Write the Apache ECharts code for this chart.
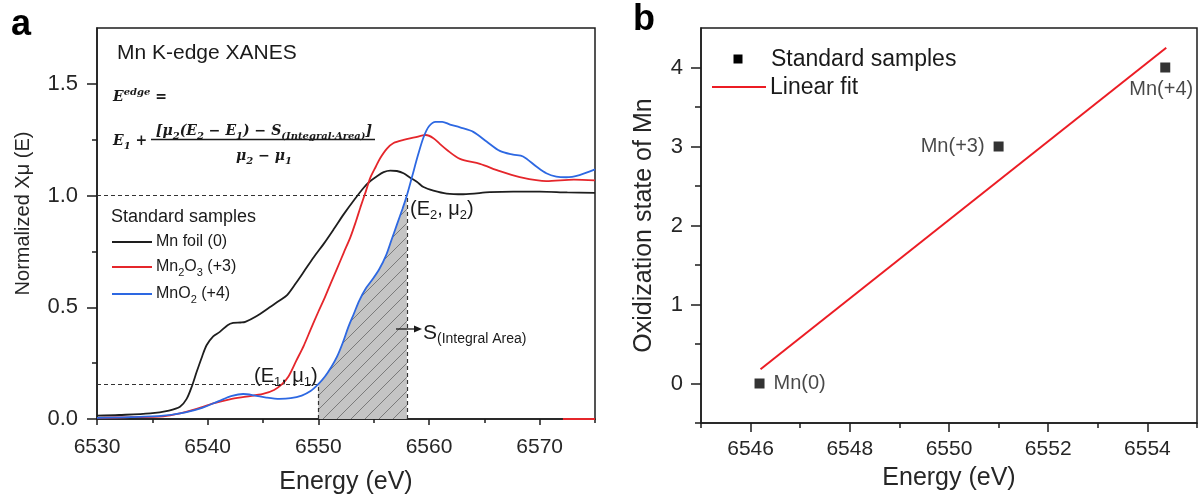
<!DOCTYPE html>
<html>
<head>
<meta charset="utf-8">
<script src="https://cdn.jsdelivr.net/npm/echarts@6/dist/echarts.min.js"></script>
<style>
html, body { margin: 0; padding: 0; background: #fff; }
#chart { width: 1198px; height: 500px; }
</style>
</head>
<body>
<div id="chart"></div>
<script>
// ---- panel a: Mn K-edge XANES ----
var foilE = [6530, 6532, 6534.8, 6536.5, 6537.5, 6538.1, 6538.6, 6539.0, 6539.5, 6539.9, 6540.5, 6541.1, 6541.8, 6542.3, 6543.0, 6543.4, 6544.4, 6545.6, 6546.5, 6547.2, 6548.0, 6548.7, 6549.6, 6550.5, 6551.4, 6552.3, 6553.2, 6554.1, 6554.7, 6555.3, 6555.9, 6556.5, 6557.1, 6557.7, 6558.3, 6558.9, 6559.5, 6560.4, 6561.6, 6563.1, 6565.5, 6567.6, 6570, 6572.5, 6575];
var foilMu = [0.015, 0.018, 0.025, 0.038, 0.055, 0.09, 0.15, 0.21, 0.28, 0.33, 0.37, 0.39, 0.42, 0.43, 0.432, 0.435, 0.46, 0.50, 0.53, 0.556, 0.61, 0.66, 0.725, 0.785, 0.85, 0.917, 0.978, 1.035, 1.065, 1.087, 1.105, 1.112, 1.11, 1.10, 1.08, 1.062, 1.038, 1.022, 1.009, 1.006, 1.015, 1.018, 1.018, 1.014, 1.012];

var mn2o3E = [6530, 6533, 6536, 6537.5, 6539, 6540.5, 6542, 6543.5, 6545, 6546, 6546.7, 6547.3, 6548, 6548.7, 6549.3, 6550, 6550.5, 6551.1, 6551.7, 6552.3, 6552.9, 6553.4, 6553.8, 6554.3, 6554.7, 6555.2, 6555.6, 6556.2, 6556.8, 6557.7, 6558.7, 6559.7, 6560.4, 6561, 6561.6, 6562.8, 6564.6, 6566.4, 6568.2, 6570.6, 6573.1, 6575];
var mn2o3Mu = [0.005, 0.008, 0.012, 0.025, 0.045, 0.07, 0.088, 0.1, 0.112, 0.13, 0.155, 0.19, 0.26, 0.33, 0.40, 0.48, 0.534, 0.605, 0.674, 0.745, 0.814, 0.885, 0.947, 1.02, 1.08, 1.13, 1.168, 1.21, 1.235, 1.249, 1.26, 1.271, 1.257, 1.23, 1.205, 1.164, 1.142, 1.109, 1.083, 1.065, 1.071, 1.068];

var mno2E = [6530, 6533, 6536, 6538, 6539.5, 6541, 6542.2, 6543.2, 6544.2, 6545.3, 6546.5, 6547.5, 6548.5, 6549.3, 6550, 6550.6, 6551.2, 6551.7, 6552.2, 6552.7, 6553.2, 6553.7, 6554.3, 6554.9, 6555.5, 6556.1, 6556.6, 6557.1, 6557.6, 6558, 6558.5, 6559, 6559.5, 6560, 6560.6, 6561.2, 6561.9, 6562.8, 6564, 6565.2, 6566.4, 6567.6, 6568.5, 6569.7, 6570.6, 6571.5, 6572.4, 6573.6, 6575];
var mno2Mu = [0.005, 0.008, 0.015, 0.03, 0.05, 0.08, 0.103, 0.112, 0.106, 0.096, 0.09, 0.093, 0.105, 0.125, 0.156, 0.19, 0.235, 0.28, 0.34, 0.41, 0.47, 0.53, 0.585, 0.625, 0.67, 0.73, 0.8, 0.87, 0.94, 1.0, 1.09, 1.18, 1.26, 1.31, 1.33, 1.33, 1.318, 1.305, 1.285, 1.242, 1.2, 1.183, 1.175, 1.13, 1.1, 1.085, 1.082, 1.092, 1.117];

// stray red segment on the energy axis at the right end of the original
var strayE = [6572.1, 6575];
var strayMu = [0, 0];

// integration limits (E1, mu1) and (E2, mu2)
var edgeE1 = 6550, edgeMu1 = 0.156;
var edgeE2 = 6558, edgeMu2 = 1.0;

var axisAMin = 6530, axisAMax = 6575;
var ticksAX = [6530, 6540, 6550, 6560, 6570];
var minorAX = [6535, 6545, 6555, 6565, 6575];
var ticksAY = [0, 0.5, 1.0, 1.5];
var minorAY = [0.25, 0.75, 1.25];

// ---- panel b: oxidation state vs edge energy ----
var sampleNames = ['Mn(0)', 'Mn(+3)', 'Mn(+4)'];
var sampleE = [6546.18, 6551.0, 6554.36];
var sampleOx = [0, 3, 4];
var fitE = [6546.2, 6554.38];
var fitOx = [0.18, 4.25];

var ticksBX = [6546, 6548, 6550, 6552, 6554];
var minorBX = [6545, 6547, 6549, 6551, 6553, 6555];
var ticksBY = [0, 1, 2, 3, 4];
var minorBY = [-0.5, 0.5, 1.5, 2.5, 3.5];

var SANS = '"Liberation Sans", Arial, sans-serif';
var SERIF = '"DejaVu Serif", serif';
var INK = '#1c1c1c';
var C_FOIL = '#1e1e1e', C_MN2O3 = '#e5262b', C_MNO2 = '#2d68e2', C_FIT = '#ec1c24';

function zip(xs, ys) {
    return xs.map(function (x, i) { return [x, ys[i]]; });
}

function makeHatch() {
    var s = 14;
    var cv = document.createElement('canvas');
    cv.width = s; cv.height = s;
    var ctx = cv.getContext('2d');
    ctx.fillStyle = '#c4c4c4';
    ctx.fillRect(0, 0, s, s);
    ctx.strokeStyle = '#7a7a7a';
    ctx.lineWidth = 1;
    ctx.beginPath();
    ctx.moveTo(0, s); ctx.lineTo(s, 0);
    ctx.moveTo(-s / 2, s / 2); ctx.lineTo(s / 2, -s / 2);
    ctx.moveTo(s / 2, s * 1.5); ctx.lineTo(s * 1.5, s / 2);
    ctx.stroke();
    return cv;
}

function plain(v) { return String(v); }

function mainX(gridIndex, min, max, ticks, tickLen, margin, gap) {
    return {
        type: 'value', gridIndex: gridIndex, min: min, max: max, position: 'bottom',
        axisLine: { show: true, onZero: false, lineStyle: { color: INK, width: 1.5 } },
        axisTick: { show: true, customValues: ticks, length: tickLen, lineStyle: { color: INK, width: 1.5 } },
        axisLabel: { customValues: ticks, formatter: plain, margin: margin, color: '#262626', fontSize: 21, fontFamily: SANS },
        splitLine: { show: false },
        name: 'Energy (eV)', nameLocation: 'middle', nameGap: gap,
        nameTextStyle: { fontSize: 25, color: '#262626', fontFamily: SANS }
    };
}

function minorAxis(kind, gridIndex, min, max, ticks, tickLen) {
    return {
        type: 'value', gridIndex: gridIndex, min: min, max: max,
        position: kind === 'x' ? 'bottom' : 'left',
        axisLine: { show: false, onZero: false },
        axisTick: { show: true, customValues: ticks, length: tickLen, lineStyle: { color: INK, width: 1.5 } },
        axisLabel: { show: false },
        splitLine: { show: false }
    };
}

function mainY(gridIndex, min, max, ticks, fmt, margin, name, nameSize, gap, namePad) {
    return {
        type: 'value', gridIndex: gridIndex, min: min, max: max, position: 'left',
        axisLine: { show: true, onZero: false, lineStyle: { color: INK, width: 1.5 } },
        axisTick: { show: true, customValues: ticks, length: 10, lineStyle: { color: INK, width: 1.5 } },
        axisLabel: { customValues: ticks, formatter: fmt, margin: margin, color: '#262626', fontSize: 22, fontFamily: SANS },
        splitLine: { show: false },
        name: name, nameLocation: 'middle', nameGap: gap,
        nameTextStyle: { fontSize: nameSize, color: '#262626', fontFamily: SANS, padding: namePad || 0 }
    };
}

function curve(name, data, color) {
    return {
        type: 'line', name: name, xAxisIndex: 0, yAxisIndex: 0, data: data,
        showSymbol: false, symbol: 'none', smooth: 0.3, z: 3,
        lineStyle: { color: color, width: 1.8 }
    };
}

function rich(size, subSize, family, weight, style) {
    return {
        n: { fontSize: size, fontFamily: family, fontWeight: weight, fontStyle: style, fill: '#1a1a1a', lineHeight: size + 6 },
        s: { fontSize: subSize, fontFamily: family, fontWeight: weight, fontStyle: style, fill: '#1a1a1a', verticalAlign: 'bottom', lineHeight: subSize + 2 },
        u: { fontSize: subSize, fontFamily: family, fontWeight: weight, fontStyle: style, fill: '#1a1a1a', verticalAlign: 'top', lineHeight: subSize + 2 }
    };
}

function label(text, x, y, opts) {
    opts = opts || {};
    return {
        type: 'text', x: x, y: y, z: 10, silent: true,
        style: {
            text: text, align: opts.align || 'left', verticalAlign: 'middle',
            fontSize: opts.size || 18, fontFamily: opts.family || SANS,
            fontWeight: opts.weight || 'normal', fill: opts.color || '#1a1a1a',
            rich: opts.rich
        }
    };
}

function hline(x1, x2, y, color, width) {
    return { type: 'line', z: 10, silent: true, shape: { x1: x1, y1: y, x2: x2, y2: y }, style: { stroke: color, lineWidth: width } };
}

var hatchData = zip(mno2E, mno2Mu).filter(function (p) { return p[0] >= edgeE1 && p[0] <= edgeE2; });

var guide = { type: [4, 3], color: '#333', width: 1.2 };

var formulaRich = rich(14, 10, SERIF, 'bold', 'italic');
var annRich = rich(20, 13, SANS, 'normal', 'normal');
var legRich = rich(16, 11, SANS, 'normal', 'normal');

var option = {
    animation: false,
    backgroundColor: '#fff',
    grid: [
        { left: 97, top: 28, width: 498, height: 395, show: true, borderColor: INK, borderWidth: 1.5 },
        { left: 701, top: 28, width: 496, height: 395, show: true, borderColor: INK, borderWidth: 1.5 }
    ],
    xAxis: [
        mainX(0, axisAMin, axisAMax, ticksAX, 6, 18, 51),
        minorAxis('x', 0, axisAMin, axisAMax, minorAX, 4),
        mainX(1, 6545, 6555, ticksBX, 9, 16, 43),
        minorAxis('x', 1, 6545, 6555, minorBX, 5)
    ],
    yAxis: [
        mainY(0, 0, 1.75, ticksAY, function (v) { return v.toFixed(1); }, 19, 'Normalized Xμ (E)', 20, 64, [0, 0, 0, 20]),
        minorAxis('y', 0, 0, 1.75, minorAY, 5),
        mainY(1, -0.5, 4.5, ticksBY, plain, 18, 'Oxidization state of Mn', 25, 44),
        minorAxis('y', 1, -0.5, 4.5, minorBY, 6)
    ],
    series: [
        {
            type: 'line', name: 'S (Integral Area)', xAxisIndex: 0, yAxisIndex: 0,
            data: hatchData, showSymbol: false, symbol: 'none', smooth: 0.3, z: 1,
            lineStyle: { width: 0, opacity: 0 },
            areaStyle: { color: { image: makeHatch(), repeat: 'repeat' }, opacity: 1 },
            markLine: {
                silent: true, symbol: 'none', label: { show: false }, lineStyle: guide, z: 2,
                data: [
                    [{ coord: [axisAMin, edgeMu2] }, { coord: [edgeE2, edgeMu2] }],
                    [{ coord: [axisAMin, edgeMu1] }, { coord: [edgeE1, edgeMu1] }],
                    [{ coord: [edgeE1, 0] }, { coord: [edgeE1, edgeMu1] }],
                    [{ coord: [edgeE2, 0] }, { coord: [edgeE2, edgeMu2] }]
                ]
            }
        },
        curve('Mn foil (0)', zip(foilE, foilMu), C_FOIL),
        curve('Mn2O3 (+3)', zip(mn2o3E, mn2o3Mu), C_MN2O3),
        curve('MnO2 (+4)', zip(mno2E, mno2Mu), C_MNO2),
        {
            type: 'line', xAxisIndex: 0, yAxisIndex: 0, data: zip(strayE, strayMu),
            showSymbol: false, symbol: 'none', z: 4, silent: true,
            lineStyle: { color: C_MN2O3, width: 2 }
        },
        {
            type: 'line', name: 'Linear fit', xAxisIndex: 2, yAxisIndex: 2,
            data: zip(fitE, fitOx), showSymbol: false, symbol: 'none', z: 3,
            lineStyle: { color: C_FIT, width: 2 }
        },
        {
            type: 'scatter', name: 'Standard samples', xAxisIndex: 2, yAxisIndex: 2,
            symbol: 'rect', symbolSize: 10, z: 4,
            itemStyle: { color: '#000' },
            data: sampleE.map(function (e, i) {
                var pos = ['right', 'left', 'bottom'][i];
                return {
                    name: sampleNames[i], value: [e, sampleOx[i]],
                    label: { position: pos, distance: pos === 'bottom' ? 7 : 9, offset: pos === 'bottom' ? [-4, 0] : [0, 0] }
                };
            }),
            label: { show: true, formatter: '{b}', fontSize: 20, color: '#1a1a1a', fontFamily: SANS }
        }
    ],
    graphic: [
        label('a', 11, 25, { size: 36, weight: 'bold', color: '#000' }),
        label('b', 633, 20, { size: 36, weight: 'bold', color: '#000' }),
        label('Mn K-edge XANES', 117, 53, { size: 21 }),
        label('{n|E}{u|edge}{n| =}', 113, 97, { rich: formulaRich }),
        label('{n|E}{s|1}{n| +}', 113, 141, { rich: formulaRich }),
        label('{n|[μ}{s|2}{n|(E}{s|2}{n| − E}{s|1}{n|) − S}{s|(Integral·Area)}{n|]}', 264, 131, { align: 'center', rich: formulaRich }),
        hline(151, 375, 139.5, '#1a1a1a', 1.3),
        label('{n|μ}{s|2}{n| − μ}{s|1}', 264, 156, { align: 'center', rich: formulaRich }),
        label('Standard samples', 111, 217, { size: 18 }),
        hline(112, 152, 242, C_FOIL, 1.8),
        label('{n|Mn foil (0)}', 156, 242, { rich: legRich }),
        hline(112, 152, 267, C_MN2O3, 1.8),
        label('{n|Mn}{s|2}{n|O}{s|3}{n| (+3)}', 156, 267, { rich: legRich }),
        hline(112, 152, 294, C_MNO2, 1.8),
        label('{n|MnO}{s|2}{n| (+4)}', 156, 294, { rich: legRich }),
        label('{n|(E}{s|2}{n|, μ}{s|2}{n|)}', 410, 209, { rich: annRich }),
        label('{n|(E}{s|1}{n|, μ}{s|1}{n|)}', 254, 376, { rich: annRich }),
        hline(396, 416, 329, '#1a1a1a', 1.3),
        { type: 'polygon', z: 10, silent: true, shape: { points: [[414, 325.5], [422, 329], [414, 332.5]] }, style: { fill: '#1a1a1a' } },
        label('{n|S}{s|(Integral Area)}', 423, 333, { rich: rich(21, 14, SANS, 'normal', 'normal') }),
        { type: 'rect', z: 10, silent: true, shape: { x: 733.5, y: 54.5, width: 9, height: 9 }, style: { fill: '#000' } },
        label('Standard samples', 771, 60, { size: 23 }),
        hline(712, 766, 87, C_FIT, 2),
        label('Linear fit', 770, 88, { size: 23 })
    ]
};

var chart = echarts.init(document.getElementById('chart'), null, { renderer: 'canvas' });
chart.setOption(option);
</script>
</body>
</html>
